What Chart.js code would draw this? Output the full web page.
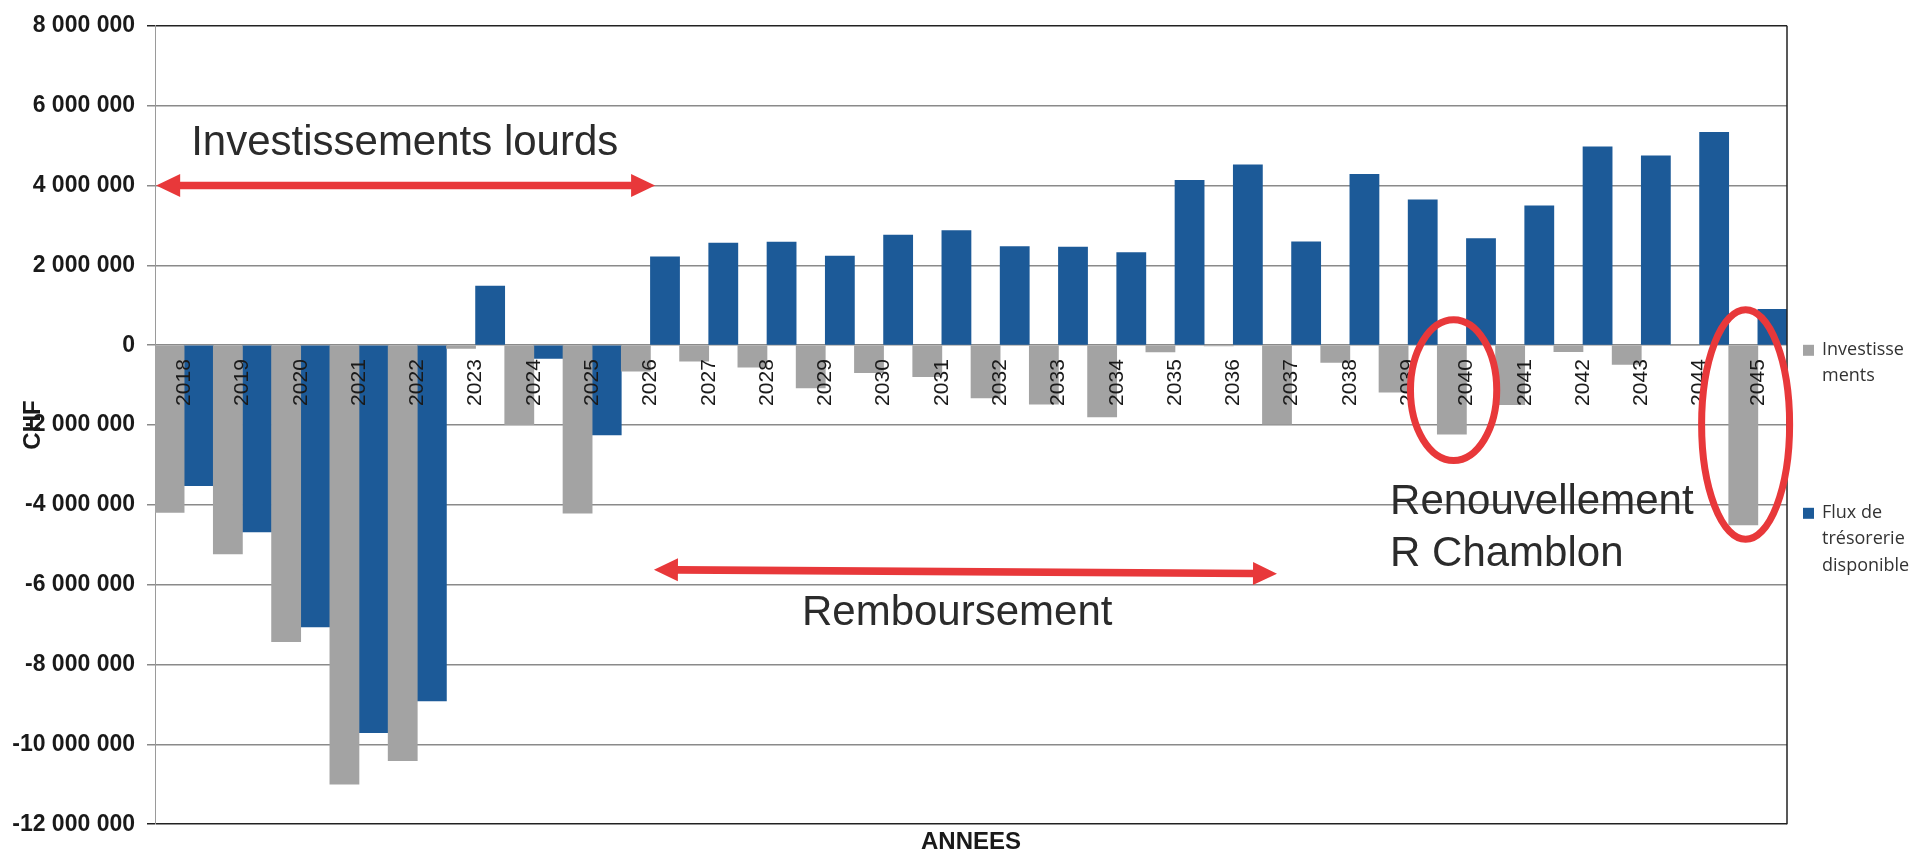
<!DOCTYPE html>
<html lang="fr">
<head>
<meta charset="utf-8">
<title>Flux de trésorerie</title>
<script src="https://cdn.jsdelivr.net/npm/chart.js@4.4.1/dist/chart.umd.min.js"></script>
<style>
  html, body { margin: 0; padding: 0; background: #ffffff; }
  canvas { display: block; }
</style>
</head>
<body>
<canvas id="cashflowChart" width="1914" height="857"></canvas>
<script>
(function () {
  'use strict';

  const years = [
    '2018', '2019', '2020', '2021', '2022', '2023', '2024', '2025', '2026', '2027',
    '2028', '2029', '2030', '2031', '2032', '2033', '2034', '2035', '2036', '2037',
    '2038', '2039', '2040', '2041', '2042', '2043', '2044', '2045',
  ];

  // Investissements (gris), CHF
  const investissements = [
    -4190000, -5230000, -7430000, -11000000, -10410000,
    -80000, -1990000, -4210000, -650000, -400000,
    -550000, -1070000, -690000, -790000, -1320000,
    -1480000, -1800000, -170000, -20000, -1980000,
    -430000, -1180000, -2230000, -1490000, -160000,
    -480000, 0, -4500000,
  ];

  // Flux de trésorerie disponible (bleu), CHF
  const fluxTresorerie = [
    -3520000, -4680000, -7060000, -9710000, -8910000,
    1480000, -330000, -2250000, 2210000, 2560000,
    2580000, 2230000, 2760000, 2870000, 2470000,
    2460000, 2320000, 4130000, 4520000, 2590000,
    4280000, 3640000, 2670000, 3490000, 4970000,
    4740000, 5330000, 900000,
  ];

  const seriesNames = [['Investisse', 'ments'], ['Flux de', 'trésorerie', 'disponible']];
  const seriesColors = ['#a3a3a3', '#1c5a98'];

  const Y_MIN = -12000000;
  const Y_MAX = 8000000;
  const Y_STEP = 2000000;

  const RED = '#e8383a';
  const SANS = '"Liberation Sans", Arial, sans-serif';
  const NOTE_FONT = '42px ' + SANS;

  function formatChf(v) {
    const s = Math.abs(v).toString().replace(/\B(?=(\d{3})+(?!\d))/g, ' ');
    return (v < 0 ? '-' : '') + s;
  }

  function drawDoubleArrow(ctx, x1, y1, x2, y2) {
    const len = Math.hypot(x2 - x1, y2 - y1);
    const ang = Math.atan2(y2 - y1, x2 - x1);
    const head = 24, half = 11.5, shaft = 3.8;
    ctx.save();
    ctx.translate(x1, y1);
    ctx.rotate(ang);
    ctx.beginPath();
    ctx.moveTo(0, 0);
    ctx.lineTo(head, -half);
    ctx.lineTo(head, -shaft);
    ctx.lineTo(len - head, -shaft);
    ctx.lineTo(len - head, -half);
    ctx.lineTo(len, 0);
    ctx.lineTo(len - head, half);
    ctx.lineTo(len - head, shaft);
    ctx.lineTo(head, shaft);
    ctx.lineTo(head, half);
    ctx.closePath();
    ctx.fillStyle = RED;
    ctx.fill();
    ctx.restore();
  }

  // right border of the plot
  const frame = {
    id: 'frame',
    afterDatasetsDraw(chart) {
      const { ctx, chartArea: a } = chart;
      ctx.save();
      ctx.strokeStyle = '#222';
      ctx.lineWidth = 1.5;
      ctx.beginPath();
      ctx.moveTo(a.right, a.top);
      ctx.lineTo(a.right, a.bottom);
      ctx.stroke();
      ctx.restore();
    },
  };

  // red arrows, circles and hand notes
  const notes = {
    id: 'notes',
    afterDraw(chart) {
      const { ctx, scales: { x, y } } = chart;
      const step = x.getPixelForValue(1) - x.getPixelForValue(0);
      const px = (i) => x.getPixelForValue(0) + i * step;
      const py = (v) => y.getPixelForValue(v);

      drawDoubleArrow(ctx, px(-0.48), py(4000000), px(8.08), py(4000000));
      drawDoubleArrow(ctx, px(8.06), py(-5625000), px(18.75), py(-5725000));

      ctx.save();
      ctx.fillStyle = '#2b2b2b';
      ctx.font = NOTE_FONT;
      ctx.textAlign = 'left';
      ctx.textBaseline = 'alphabetic';
      ctx.fillText('Investissements lourds', px(0.12), py(4775000));
      ctx.fillText('Remboursement', px(10.6), py(-7000000));
      ctx.fillText('Renouvellement', px(20.69), py(-4225000));
      ctx.fillText('R Chamblon', px(20.69), py(-5525000));
      ctx.restore();

      ctx.save();
      ctx.strokeStyle = RED;
      ctx.lineWidth = 7;
      [[21.78, -1125000, 0.74, 1762500], [26.79, -1987500, 0.755, 2875000]].forEach(([cx, cy, rx, ry]) => {
        ctx.beginPath();
        ctx.ellipse(px(cx), py(cy), rx * step, Math.abs(py(0) - py(ry)), 0, 0, Math.PI * 2);
        ctx.stroke();
      });
      ctx.restore();
    },
  };

  // legend on the right, wrapped like the original
  const sideLegend = {
    id: 'sideLegend',
    afterDraw(chart) {
      const { ctx, chartArea: a } = chart;
      const tops = [324, 487];
      ctx.save();
      ctx.font = '18px "Open Sans", ' + SANS;
      ctx.textBaseline = 'middle';
      ctx.textAlign = 'left';
      chart.data.datasets.forEach((ds, i) => {
        const y0 = a.top + tops[i];
        ctx.fillStyle = ds.backgroundColor;
        ctx.fillRect(a.right + 16, y0 - 5, 11, 11);
        ctx.fillStyle = '#333';
        seriesNames[i].forEach((line, k) => {
          ctx.fillText(line, a.right + 35, y0 + k * 26.5);
        });
      });
      ctx.restore();
    },
  };

  const ctx = document.getElementById('cashflowChart').getContext('2d');
  new Chart(ctx, {
    type: 'bar',
    data: {
      labels: years,
      datasets: [
        {
          label: seriesNames[0].join(''),
          data: investissements,
          backgroundColor: seriesColors[0],
          borderWidth: 0,
          xAxisID: 'x',
        },
        {
          label: seriesNames[1].join(' '),
          data: fluxTresorerie,
          backgroundColor: seriesColors[1],
          borderWidth: 0,
          xAxisID: 'x',
        },
      ],
    },
    options: {
      responsive: false,
      animation: false,
      devicePixelRatio: 1,
      categoryPercentage: 1.0,
      barPercentage: 1.0,
      layout: { padding: { top: 24, right: 127, bottom: 0, left: 0 } },
      plugins: {
        legend: { display: false },
        tooltip: { enabled: false },
      },
      scales: {
        x: {
          type: 'category',
          position: { y: 0 },
          offset: true,
          grid: { display: false, drawTicks: false },
          border: { display: false },
          ticks: {
            z: 1,
            autoSkip: false,
            maxRotation: 90,
            minRotation: 90,
            padding: 14,
            color: '#1a1a1a',
            font: { family: SANS, size: 21 },
          },
        },
        xTitle: {
          type: 'category',
          position: 'bottom',
          offset: true,
          grid: { display: false, drawTicks: false },
          border: { display: false },
          ticks: { display: false },
          title: {
            display: true,
            text: 'ANNEES',
            color: '#1a1a1a',
            font: { family: SANS, size: 24, weight: 'bold' },
            padding: { top: 4, bottom: 0 },
          },
        },
        y: {
          min: Y_MIN,
          max: Y_MAX,
          afterFit: (scale) => { scale.width = 155; },
          ticks: {
            stepSize: Y_STEP,
            padding: 12,
            color: '#1a1a1a',
            font: { family: SANS, size: 23, weight: 'bold' },
            callback: (v) => formatChf(v),
          },
          grid: {
            color: (c) => (c.tick && (c.tick.value === Y_MAX || c.tick.value === Y_MIN) ? '#222' : '#8a8a8a'),
            lineWidth: 1.5,
            tickLength: 8,
          },
          border: { color: '#9a9a9a', width: 1 },
          title: {
            display: true,
            text: 'CHF',
            color: '#1a1a1a',
            font: { family: SANS, size: 24, weight: 'bold' },
            padding: { top: 19, bottom: 0 },
          },
        },
      },
    },
    plugins: [frame, notes, sideLegend],
  });
})();
</script>
</body>
</html>
